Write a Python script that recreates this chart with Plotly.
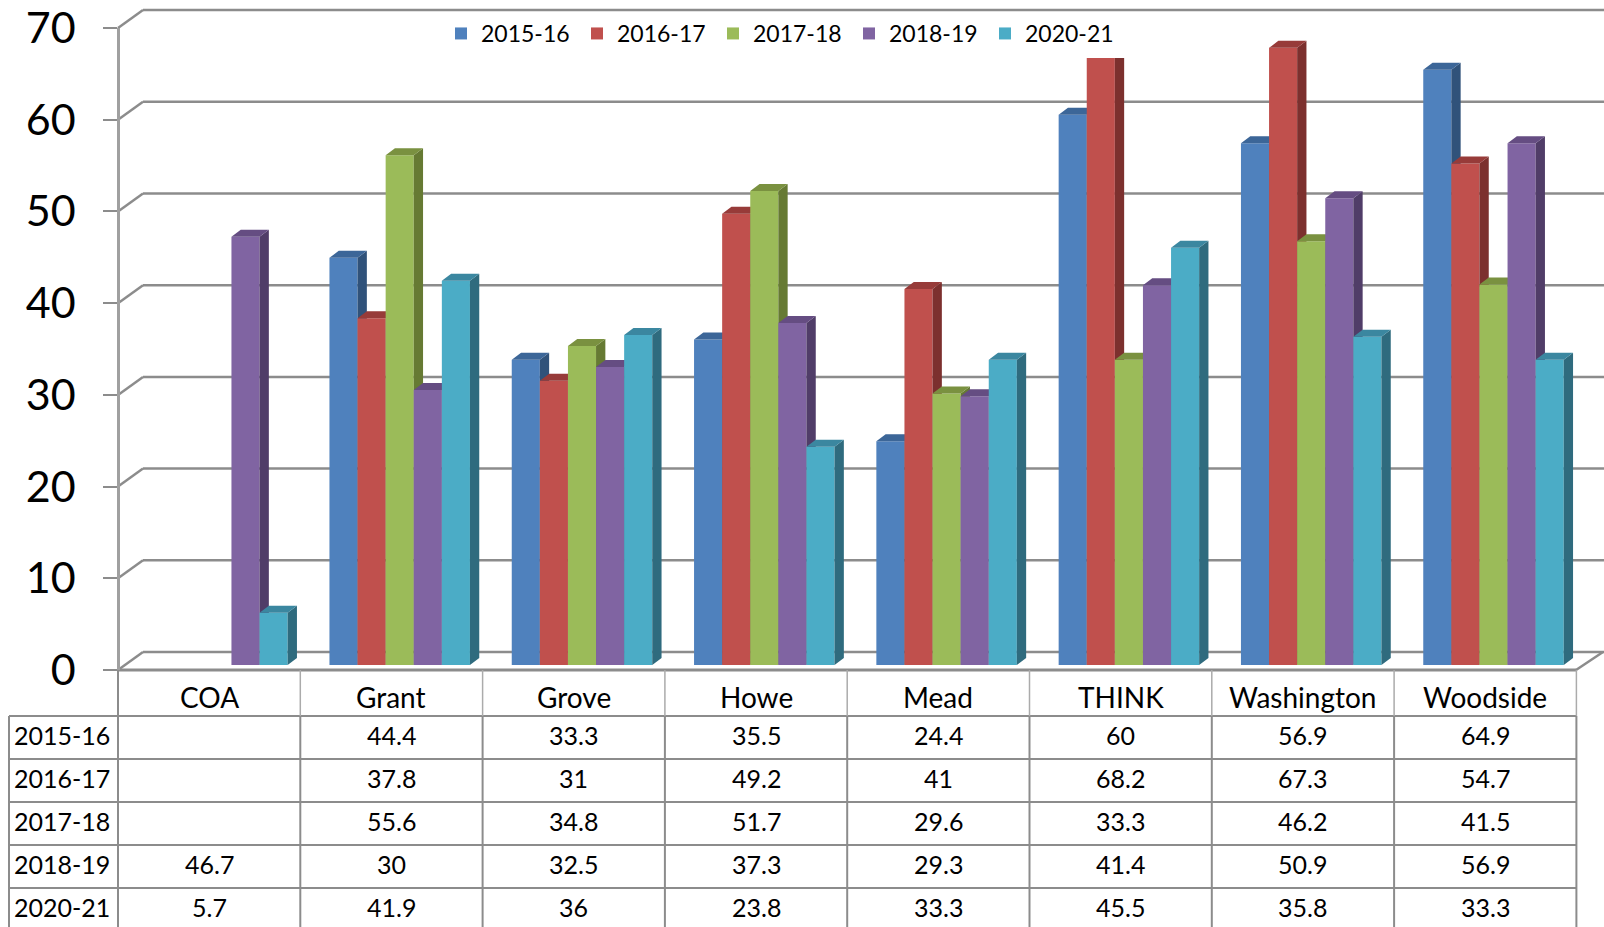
import plotly.graph_objects as go

categories = ["COA", "Grant", "Grove", "Howe", "Mead", "THINK", "Washington", "Woodside"]
series_names = ["2015-16", "2016-17", "2017-18", "2018-19", "2020-21"]
v_2015_16 = [None, 44.4, 33.3, 35.5, 24.4, 60, 56.9, 64.9]
v_2016_17 = [None, 37.8, 31, 49.2, 41, 68.2, 67.3, 54.7]
v_2017_18 = [None, 55.6, 34.8, 51.7, 29.6, 33.3, 46.2, 41.5]
v_2018_19 = [46.7, 30, 32.5, 37.3, 29.3, 41.4, 50.9, 56.9]
v_2020_21 = [5.7, 41.9, 36, 23.8, 33.3, 45.5, 35.8, 33.3]
series_values = [v_2015_16, v_2016_17, v_2017_18, v_2018_19, v_2020_21]
y_ticks = [0, 10, 20, 30, 40, 50, 60, 70]

front_colors = ["#4F81BD", "#C0504D", "#9BBB59", "#8064A2", "#4BACC6"]
side_colors = ["#30527A", "#7C302E", "#667A33", "#503D68", "#2F6B7E"]
top_colors = ["#3C6698", "#973B39", "#7A9140", "#654D82", "#3B87A0"]

FONT = "Lato"
GRID = "#8C8C8C"
W, H = 1604, 927
UNIT = 9.17
CELL = 182.3
BAR_W = 28.1
DX = 9.3 / CELL
DY = 7 / UNIT
bar_w = BAR_W / CELL
CX0 = 217.4
BASE_Y = 665
x_range = [-CX0 / CELL, (W - CX0) / CELL]
y_range = [(BASE_Y - H) / UNIT, BASE_Y / UNIT]


def px(x):
    return x / W


def py(y):
    return 1 - y / H


def line(x0, y0, x1, y1, color=GRID, width=2.5, layer="below"):
    return dict(type="line", xref="paper", yref="paper", x0=px(x0), y0=py(y0), x1=px(x1), y1=py(y1),
                line=dict(color=color, width=width), layer=layer)


fig = go.Figure()
layout = {}
for k, (name, vals) in enumerate(zip(series_names, series_values)):
    suffix = "" if k == 0 else str(k + 1)
    xa, ya = "x" + suffix, "y" + suffix
    left = -2.5 * bar_w + k * bar_w
    fig.add_trace(go.Bar(x=list(range(len(categories))), y=vals, name=name, width=bar_w,
                         offset=left, marker=dict(color=front_colors[k], line=dict(width=0)),
                         xaxis=xa, yaxis=ya, customdata=categories,
                         hovertemplate="%{customdata}: %{y}<extra>" + name + "</extra>"))
    sx, sy, tx, ty = [], [], [], []
    for i, v in enumerate(vals):
        if v is None:
            continue
        l, r = i + left, i + left + bar_w
        sx += [r, r + DX, r + DX, r, r, None]
        sy += [0, DY, v + DY, v, 0, None]
        tx += [l, l + DX, r + DX, r, l, None]
        ty += [v, v + DY, v + DY, v, v, None]
    for xs, ys, col in ((sx, sy, side_colors[k]), (tx, ty, top_colors[k])):
        fig.add_trace(go.Scatter(x=xs, y=ys, mode="lines", fill="toself", fillcolor=col,
                                 line=dict(width=0, color=col), showlegend=False, hoverinfo="skip",
                                 xaxis=xa, yaxis=ya))
    layout["xaxis" + suffix] = dict(range=x_range, visible=False, domain=[0, 1], fixedrange=True,
                                    **({} if k == 0 else {"overlaying": "x"}))
    layout["yaxis" + suffix] = dict(range=y_range, visible=False, domain=[0, 1], fixedrange=True,
                                    **({} if k == 0 else {"overlaying": "y"}))

# Labelled value axis (front edge of the box)
fig.add_trace(go.Scatter(x=[0], y=[0], mode="none", showlegend=False, hoverinfo="skip", xaxis="x6", yaxis="y6"))
layout["xaxis6"] = dict(range=[0, 1], visible=False, domain=[0, 1], fixedrange=True)
layout["yaxis6"] = dict(range=[0, 70], domain=[py(670), py(28)], anchor="free", position=px(118),
                        tickvals=y_ticks, ticktext=[str(t) for t in y_ticks], ticks="outside", ticklen=14,
                        tickwidth=2, tickcolor=GRID, showline=True, linecolor="#A0A0A0", linewidth=2.5,
                        showgrid=False, zeroline=False, ticklabelstandoff=19, fixedrange=True,
                        ticklabeloverflow="allow",
                        tickfont=dict(family=FONT, size=43, color="black"))

shapes = []
# Walls and floor
for t in y_ticks:
    y_front = 670 - t * UNIT
    y_back = 652 - t * UNIT
    shapes.append(line(118, y_front, 143, y_back))
    shapes.append(line(143, y_back, 1604, y_back))
shapes.append(line(1603, 652, 1576, 670))

# Legend backing that hides what is behind it
shapes.append(dict(type="rect", xref="paper", yref="paper", x0=px(445), x1=px(1130), y0=py(12), y1=py(58),
                   fillcolor="white", line=dict(width=0), layer="above"))

# Data table
rows_y = [716, 759, 802, 845, 888]
col_x = [118 + CELL * i for i in range(len(categories) + 1)]
shapes.append(line(118, 670, col_x[-1], 670, width=3))
for y in rows_y:
    shapes.append(line(9, y, col_x[-1], y, width=2))
shapes.append(line(9, 716, 9, 927, width=2))
shapes.append(line(118, 670, 118, 927, width=2))
for x in col_x[1:]:
    shapes.append(line(x, 670, x, 716, color="#ABABAB", width=1.5))
    shapes.append(line(x, 716, x, 927, width=2))

annotations = []


def label(text, x, y, anchor="center", size=25):
    annotations.append(dict(text=text, xref="paper", yref="paper", x=px(x), y=py(y), xanchor=anchor,
                            yanchor="middle", showarrow=False, font=dict(family=FONT, size=size, color="black")))


for i, cat in enumerate(categories):
    cx = col_x[i] + CELL / 2
    label(cat, cx, 697, size=28)
    for j, vals in enumerate(series_values):
        if vals[i] is not None:
            label(f"{vals[i]:g}", cx, 735 + j * 43)
for j, name in enumerate(series_names):
    label(name, 12, 735 + j * 43, "left")

fig.update_layout(
    width=W, height=H, autosize=False, margin=dict(l=0, r=0, t=0, b=0, pad=0, autoexpand=False),
    paper_bgcolor="white", plot_bgcolor="rgba(0,0,0,0)", barmode="overlay",
    shapes=shapes, annotations=annotations,
    legend=dict(orientation="h", x=px(441), y=py(12), xanchor="left", yanchor="top",
                bgcolor="rgba(0,0,0,0)", font=dict(family=FONT, size=23, color="black"),
                entrywidth=91, entrywidthmode="pixels", itemclick=False, itemdoubleclick=False,
                traceorder="normal"),
    **layout,
)

fig.write_html("out.html", config={"displayModeBar": False},
               post_script="document.documentElement.style.overflow='hidden';document.body.style.margin='0';")
